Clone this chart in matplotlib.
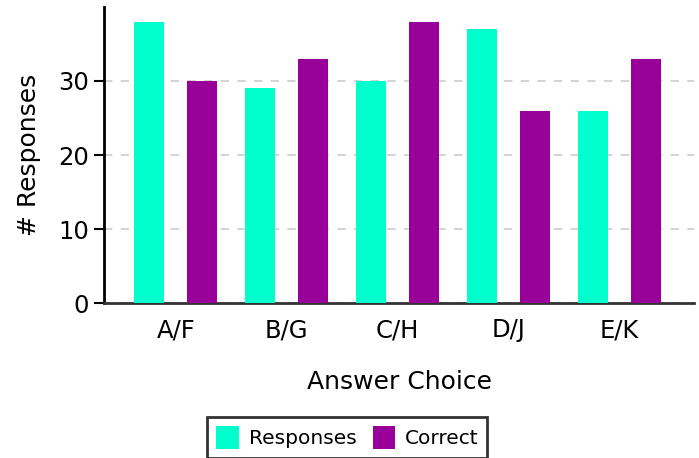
import numpy as np
import matplotlib
matplotlib.use('Agg')
import matplotlib.pyplot as plt

# данные
categories = ['A/F', 'B/G', 'C/H', 'D/J', 'E/K']
responses = [38, 29, 30, 37, 26]
correct = [30, 33, 38, 26, 33]

plt.rcParams['font.family'] = ['DejaVu Sans']

fig = plt.figure(figsize=(6.99, 4.58), dpi=100)
ax = fig.add_axes([0.149, 0.338, 0.844, 0.647])

x = np.arange(len(categories))
w = 0.27
ax.bar(x - 0.239, responses, w, color='#00FFCC', label='Responses', zorder=3)
ax.bar(x + 0.239, correct, w, color='#990099', label='Correct', zorder=3)

ax.set_xlim(-0.645, 4.67)
ax.set_ylim(0, 40)
ax.set_yticks([0, 10, 20, 30])
ax.set_xticks(x)
ax.set_xticklabels(categories)

ax.yaxis.grid(True, linestyle=(0, (5, 5)), color='#cccccc', linewidth=1.2, zorder=1)
ax.set_axisbelow(True)

for s in ['top', 'right']:
    ax.spines[s].set_visible(False)
ax.spines['left'].set_linewidth(2)
ax.spines['left'].set_color('black')
ax.spines['bottom'].set_linewidth(2)
ax.spines['bottom'].set_color('#333333')

ax.tick_params(axis='y', labelsize=17.5, length=7, width=1.5, pad=4)
ax.tick_params(axis='x', labelsize=17.5, length=0, pad=11)

ax.set_xlabel('Answer Choice', fontsize=18, labelpad=20)
ax.set_ylabel('# Responses', fontsize=18, labelpad=12)

leg = fig.legend(loc='upper center', bbox_to_anchor=(0.497, 0.0895), ncol=2,
                 fontsize=14.5, frameon=True, fancybox=False, edgecolor='black',
                 handlelength=1.1, handleheight=1.4, columnspacing=0.8,
                 handletextpad=0.5, borderpad=0.45, borderaxespad=0)
leg.get_frame().set_linewidth(2)

fig.savefig('out.png', dpi=100)
